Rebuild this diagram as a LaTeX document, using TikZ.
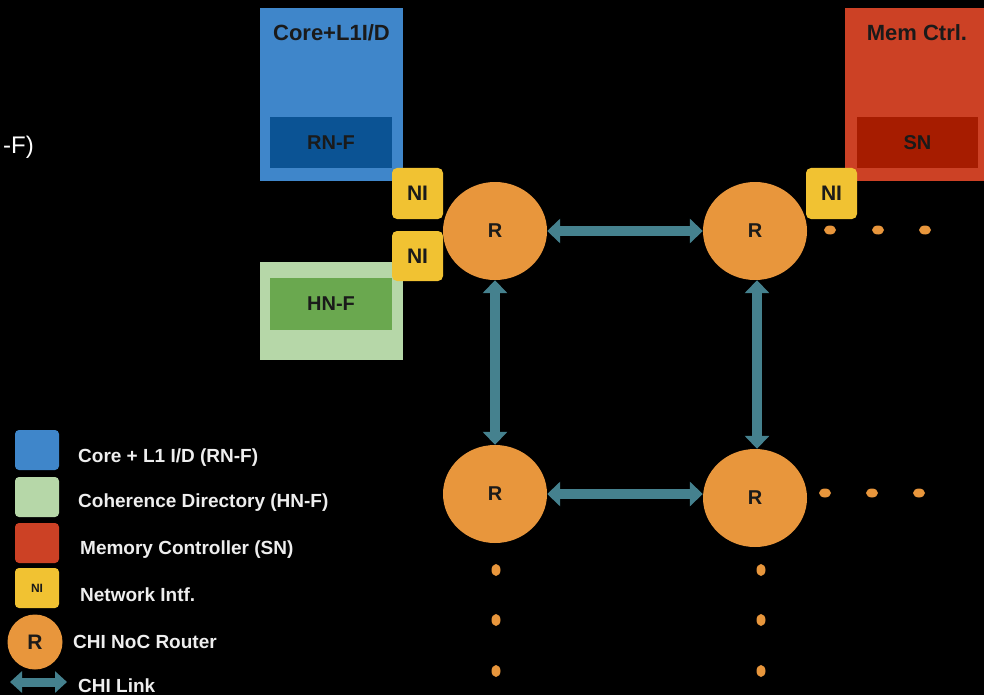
\documentclass[tikz,border=0pt]{standalone}
\usepackage{fontspec}
\setmainfont{Liberation Sans}
\usetikzlibrary{arrows.meta,shapes.geometric}
\definecolor{coreblue}{HTML}{3F86CA}
\definecolor{rnblue}{HTML}{0B5394}
\definecolor{hnlight}{HTML}{B6D7A8}
\definecolor{hndark}{HTML}{6AA84F}
\definecolor{memred}{HTML}{CC4125}
\definecolor{sndark}{HTML}{A61C00}
\definecolor{niyellow}{HTML}{F1C232}
\definecolor{routerorange}{HTML}{E8963C}
\definecolor{linkteal}{HTML}{45818E}
\definecolor{darktext}{HTML}{1A1A1A}
\definecolor{legendtext}{HTML}{EEEEEE}
\begin{document}
\begin{tikzpicture}[x=1pt,y=-1pt,
  box/.style={rectangle, inner sep=0, draw=none},
  title/.style={inner sep=0, text=darktext, font=\fontsize{22}{25}\selectfont\bfseries},
  inner/.style={box, text=darktext, font=\fontsize{20}{23}\selectfont\bfseries, minimum width=122pt, minimum height=51pt},
  nibox/.style={box, fill=niyellow, rounded corners=5pt, minimum width=51pt, minimum height=51pt, text=darktext, font=\fontsize{21}{24}\selectfont\bfseries},
  router/.style={ellipse, fill=routerorange, inner sep=0, minimum width=104pt, minimum height=98pt, text=darktext, font=\fontsize{20}{23}\selectfont\bfseries},
  link/.style={draw=linkteal, line width=10pt, {Triangle[width=24pt,length=13pt]}-{Triangle[width=24pt,length=13pt]}},
  legsq/.style={box, rounded corners=4pt, minimum width=44pt, minimum height=40pt},
  legtext/.style={anchor=west, inner sep=0, text=legendtext, font=\fontsize{19}{22}\selectfont\bfseries},
  dot/.style={fill=routerorange}
]
\fill[black] (0,0) rectangle (984,695);
\useasboundingbox (0,0) rectangle (984,695);

% cut-off text at the left
\node[anchor=east, inner sep=0, text=white, font=\fontsize{24}{28}\selectfont] (cut) at (34,147) {-F)};

% Core box
\node[box, fill=coreblue, minimum width=143pt, minimum height=173pt] (core) at (331.5,94.5) {};
\node[title] (coret) at (331.5,33) {Core+L1I/D};
\node[inner, fill=rnblue] (rnf) at (331,142.5) {RN-F};

% HN-F box
\node[box, fill=hnlight, minimum width=143pt, minimum height=98pt] (hn) at (331.5,311) {};
\node[inner, fill=hndark, minimum height=52pt] (hnf) at (331,304) {HN-F};

% Mem ctrl box
\node[box, fill=memred, minimum width=139pt, minimum height=173pt] (mem) at (914.5,94.5) {};
\node[title] (memt) at (917,33) {Mem Ctrl.};
\node[inner, fill=sndark, minimum width=121pt] (sn) at (917.5,142.5) {SN};

% routers
\node[router] (r1) at (495,231) {R};
\node[router] (r2) at (755,231) {R};
\node[router] (r3) at (495,494) {R};
\node[router] (r4) at (755,498) {R};

% network interfaces
\node[nibox] (ni1) at (417.5,193.5) {NI};
\node[nibox, minimum height=50pt] (ni2) at (417.5,256) {NI};
\node[nibox] (ni3) at (831.5,193.5) {NI};

% links
\draw[link] (r1) -- (r2);
\draw[link] (r3.east) -- (r3.east -| r4.west);
\draw[link] (r1) -- (r3);
\draw[link] ([xshift=2pt]r2.south) -- ([xshift=2pt]r4.north);

% continuation dots
\foreach \x in {830,878,925} \fill[dot] (\x,230) ellipse [x radius=6pt, y radius=4.5pt];
\foreach \x in {825,872,919} \fill[dot] (\x,493) ellipse [x radius=6pt, y radius=4.5pt];
\foreach \y in {570,620,671} {
  \fill[dot] (496,\y) ellipse [x radius=4.5pt, y radius=6pt];
  \fill[dot] (761,\y) ellipse [x radius=4.5pt, y radius=6pt];
}

% legend
\node[legsq, fill=coreblue] (lg1) at (37,450) {};
\node[legsq, fill=hnlight] (lg2) at (37,497) {};
\node[legsq, fill=memred] (lg3) at (37,543) {};
\node[legsq, fill=niyellow, text=darktext, font=\fontsize{12}{14}\selectfont\bfseries] (lg4) at (37,588) {NI};
\node[circle, fill=routerorange, inner sep=0, minimum size=55pt, text=darktext, font=\fontsize{21}{24}\selectfont\bfseries] (lg5) at (35,642) {R};
\coordinate (la) at (10,682);
\coordinate (lb) at (67,682);
\draw[draw=linkteal, line width=9pt, {Triangle[width=21pt,length=12pt]}-{Triangle[width=21pt,length=12pt]}] (la) -- (lb);

\node[legtext] (lt1) at (78,458) {Core + L1 I/D (RN-F)};
\node[legtext] (lt2) at (78,503) {Coherence Directory (HN-F)};
\node[legtext] (lt3) at (80,550) {Memory Controller (SN)};
\node[legtext] (lt4) at (80,595) {Network Intf.};
\node[legtext] (lt5) at (73,642) {CHI NoC Router};
\node[legtext] (lt6) at (78,686) {CHI Link};
\end{tikzpicture}
\end{document}
